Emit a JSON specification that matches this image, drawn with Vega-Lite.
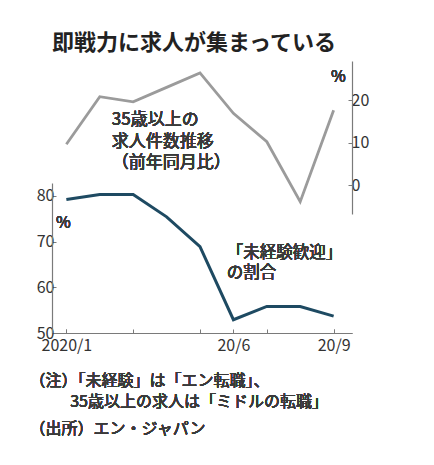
{
  "$schema": "https://vega.github.io/schema/vega-lite/v6.json",
  "description": "即戦力に求人が集まっている - two overlapping line panels",
  "autosize": {"type": "none"},
  "width": 300,
  "height": 272,
  "padding": {"left": 52, "top": 61, "right": 82, "bottom": 132},
  "background": "white",
  "title": {
    "text": "即戦力に求人が集まっている",
    "anchor": "start",
    "frame": "group",
    "font": "Noto Sans CJK JP",
    "fontSize": 22,
    "fontWeight": "bold",
    "color": "#222222",
    "baseline": "bottom",
    "offset": -16
  },
  "data": {
    "values": [
      {"month": 1, "jobs35": 9.6, "inexperienced": 79.2},
      {"month": 2, "jobs35": 20.8, "inexperienced": 80.3},
      {"month": 3, "jobs35": 19.6, "inexperienced": 80.3},
      {"month": 4, "jobs35": 23.0, "inexperienced": 75.4},
      {"month": 5, "jobs35": 26.4, "inexperienced": 68.9},
      {"month": 6, "jobs35": 16.9, "inexperienced": 52.9},
      {"month": 7, "jobs35": 10.2, "inexperienced": 55.8},
      {"month": 8, "jobs35": -3.9, "inexperienced": 55.8},
      {"month": 9, "jobs35": 17.6, "inexperienced": 53.7}
    ]
  },
  "layer": [
    {
      "layer": [
        {
          "mark": {"type": "line", "color": "#9b9b9b", "strokeWidth": 2.8, "strokeJoin": "miter"},
          "encoding": {
            "x": {
              "field": "month",
              "type": "quantitative",
              "scale": {"domain": [0.57, 9.55], "nice": false, "zero": false},
              "axis": {
                "orient": "bottom",
                "title": null,
                "values": [1, 2, 3, 4, 5, 6, 7, 8, 9],
                "labels": false,
                "grid": false,
                "tickSize": -4
              }
            },
            "y": {
              "field": "jobs35",
              "type": "quantitative",
              "scale": {"domain": [-6.8, 29.2], "range": [153, 0], "nice": false, "zero": false},
              "axis": {
                "orient": "right",
                "title": null,
                "values": [0, 10, 20],
                "grid": false,
                "tickSize": -4,
                "labelPadding": 3
              }
            }
          }
        },
        {
          "mark": {
            "type": "text",
            "align": "left",
            "baseline": "middle",
            "font": "Noto Sans CJK JP",
            "fontSize": 17,
            "lineHeight": 21.5,
            "color": "#3a3a3a"
          },
          "encoding": {
            "x": {"datum": 2.36, "type": "quantitative"},
            "y": {"datum": 15.3, "type": "quantitative"},
            "text": {"value": ["35歳以上の", "求人件数推移", "（前年同月比）"]}
          }
        },
        {
          "mark": {
            "type": "text",
            "align": "right",
            "baseline": "middle",
            "font": "Noto Sans CJK JP",
            "fontSize": 16,
            "color": "#3a3a3a"
          },
          "encoding": {
            "x": {"datum": 9.36, "type": "quantitative"},
            "y": {"datum": 25.4, "type": "quantitative"},
            "text": {"value": "%"}
          }
        }
      ]
    },
    {
      "layer": [
        {
          "mark": {"type": "line", "color": "#1e4a62", "strokeWidth": 3, "strokeJoin": "miter"},
          "encoding": {
            "x": {
              "field": "month",
              "type": "quantitative",
              "axis": {
                "orient": "bottom",
                "title": null,
                "values": [1, 6, 9],
                "labelExpr": "datum.value < 3 ? '2020/1' : datum.value < 7 ? '20/6' : '20/9'",
                "labelOverlap": false,
                "grid": false,
                "tickSize": -4,
                "labelPadding": 8,
                "labelFlush": false
              }
            },
            "y": {
              "field": "inexperienced",
              "type": "quantitative",
              "scale": {"domain": [50, 82.8], "range": [272, 122], "nice": false, "zero": false},
              "axis": {
                "orient": "left",
                "title": null,
                "values": [50, 60, 70, 80],
                "grid": false,
                "tickSize": -4,
                "labelPadding": 2
              }
            }
          }
        },
        {
          "mark": {
            "type": "text",
            "align": "left",
            "baseline": "middle",
            "font": "Noto Sans CJK JP",
            "fontSize": 16.5,
            "lineHeight": 20.5,
            "color": "#3a3a3a"
          },
          "encoding": {
            "x": {"datum": 5.8, "type": "quantitative"},
            "y": {"datum": 67.6, "type": "quantitative"},
            "text": {"value": ["「未経験歓迎」", "の割合"]}
          }
        },
        {
          "mark": {
            "type": "text",
            "align": "center",
            "baseline": "middle",
            "font": "Noto Sans CJK JP",
            "fontSize": 16,
            "color": "#3a3a3a"
          },
          "encoding": {
            "x": {"datum": 0.914, "type": "quantitative"},
            "y": {"datum": 74.05, "type": "quantitative"},
            "text": {"value": "%"}
          }
        },
        {
          "mark": {
            "type": "text",
            "align": "left",
            "baseline": "middle",
            "font": "Noto Sans CJK JP",
            "fontSize": 16,
            "color": "#3a3a3a"
          },
          "encoding": {
            "x": {"datum": -0.1, "type": "quantitative"},
            "y": {"datum": 39.4, "type": "quantitative"},
            "text": {"value": "（注）「未経験」は「エン転職」、"}
          }
        },
        {
          "mark": {
            "type": "text",
            "align": "left",
            "baseline": "middle",
            "font": "Noto Sans CJK JP",
            "fontSize": 16,
            "color": "#3a3a3a"
          },
          "encoding": {
            "x": {"datum": 1.115, "type": "quantitative"},
            "y": {"datum": 34.98, "type": "quantitative"},
            "text": {"value": "35歳以上の求人は「ミドルの転職」"}
          }
        },
        {
          "mark": {
            "type": "text",
            "align": "left",
            "baseline": "middle",
            "font": "Noto Sans CJK JP",
            "fontSize": 16,
            "color": "#3a3a3a"
          },
          "encoding": {
            "x": {"datum": -0.1, "type": "quantitative"},
            "y": {"datum": 29.03, "type": "quantitative"},
            "text": {"value": "（出所）エン・ジャパン"}
          }
        }
      ]
    }
  ],
  "resolve": {"scale": {"y": "independent"}, "axis": {"x": "independent"}},
  "config": {
    "view": {"stroke": null},
    "axis": {
      "domainColor": "#7a7a7a",
      "domainWidth": 1.2,
      "tickColor": "#7a7a7a",
      "labelFont": "Noto Sans CJK JP",
      "labelFontSize": 16,
      "labelColor": "#333333"
    }
  }
}
